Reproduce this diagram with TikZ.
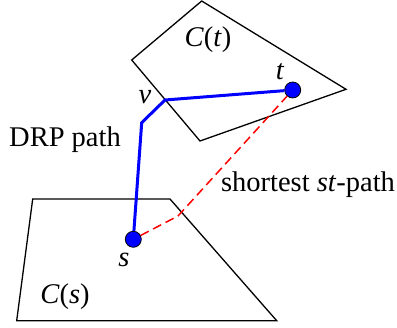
\documentclass[tikz,border=0pt]{standalone}
\usepackage{fontspec}
\setmainfont{Liberation Serif}
\usetikzlibrary{positioning}
\tikzset{
  cell/.style={draw=black, line width=1.3pt},
  site/.style={circle, draw=black, fill=blue, inner sep=0pt,
    minimum size=16pt, line width=0.8pt},
  drp/.style={draw=blue, line width=3pt, line join=miter},
  shortest/.style={draw=red, line width=1.5pt, dash pattern=on 9pt off 5pt},
  lbl/.style={font=\fontsize{28.5}{33}\selectfont, inner sep=0pt}
}
\begin{document}
\begin{tikzpicture}[x=1pt, y=-1pt]
  \useasboundingbox (0,0) rectangle (397,328);

  % Cells
  \draw[cell] (201.7,1) -- (131.7,60) -- (200,141) -- (346,89.3) -- cycle;
  \draw[cell] (32.7,199) -- (170,199) -- (276.7,320.7) -- (16.7,320.7) -- cycle;

  % Sites
  \node[site] (t) at (292.7,90) {};
  \node[site] (s) at (133.3,239.3) {};
  \coordinate (v) at (165,100);
  \coordinate (bend) at (141.7,122.7);
  \coordinate (kink) at (178,216);

  % Paths
  \draw[drp] (t) -- (v) -- (bend) -- (s);
  \draw[shortest] (s) -- (kink) -- (t);

  % Labels
  \node[lbl] (ct) at (208,40) {\textit{C}(\textit{t})};
  \node[lbl] (tl) at (280,72) {\textit{t}};
  \node[lbl] (vl) at (145,97) {\textit{v}};
  \node[lbl] (drpl) at (65,140) {DRP path};
  \node[lbl] (spl) at (308,185) {shortest \textit{st}-path};
  \node[lbl] (sl) at (124,260) {\textit{s}};
  \node[lbl] (cs) at (65,297) {\textit{C}(\textit{s})};
\end{tikzpicture}
\end{document}
